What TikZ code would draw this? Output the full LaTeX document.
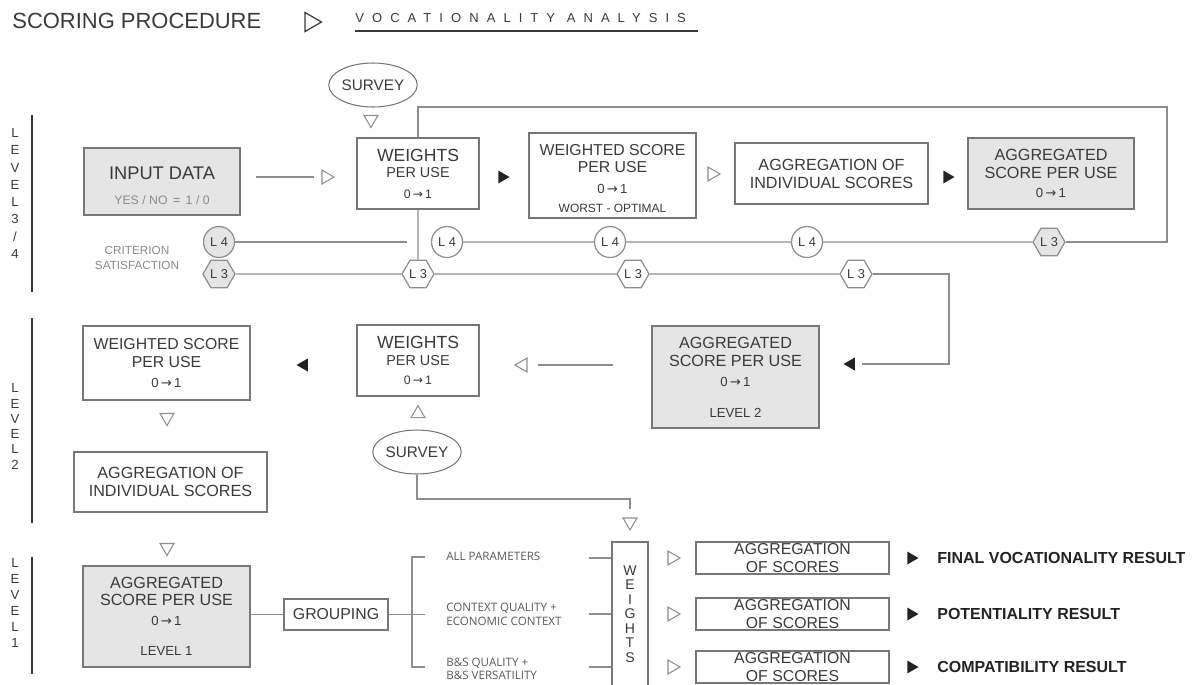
\documentclass[tikz,border=0pt]{standalone}
\usepackage{fontspec}
\setmainfont{Liberation Sans}
\newfontfamily\grpfont{Open Sans}
\newfontfamily\symfont{DejaVu Sans}
\usetikzlibrary{shapes.geometric}

\definecolor{linegray}{HTML}{8E8E8E}
\definecolor{boxline}{HTML}{777777}
\definecolor{boxfill}{HTML}{E5E5E5}
\definecolor{txtdark}{HTML}{3A3A3A}
\definecolor{txtlight}{HTML}{8A8A8A}
\definecolor{tridark}{HTML}{232323}
\definecolor{grptxt}{HTML}{5A5A5A}

% font size with a fixed 7pt baselineskip, line gaps are set with \\[..]
\newcommand{\fs}[1]{\fontsize{#1}{7pt}\selectfont}
\newcommand{\zeroone}{0{\symfont\,→\,}1}

\begin{document}
\begin{tikzpicture}[x=0.02cm, y=-0.02cm]
	\useasboundingbox (0,0) rectangle (1203,684);
	\tikzstyle{box} = [draw=boxline, line width=0.8pt, inner sep=0pt, align=center, text=txtdark, font=\fs{9}]
	\tikzstyle{greybox} = [box, fill=boxfill]
	\tikzstyle{conn} = [draw=linegray, line width=0.8pt]
	\tikzstyle{levline} = [draw=txtdark, line width=0.8pt]
	\tikzstyle{opentri} = [regular polygon, regular polygon sides=3, draw=linegray, line width=0.6pt, inner sep=0pt, minimum size=0.32cm]
	\tikzstyle{fulltri} = [regular polygon, regular polygon sides=3, fill=tridark, inner sep=0pt, minimum size=0.30cm]
	\tikzstyle{lcirc} = [circle, draw=linegray, line width=0.7pt, inner sep=0pt, minimum size=0.62cm, font=\fs{7.3}, text=txtdark]
	\tikzstyle{lhex} = [regular polygon, regular polygon sides=6, draw=linegray, line width=0.7pt, inner sep=0pt, minimum size=0.64cm, font=\fs{7.3}, text=txtdark]
	\tikzstyle{survey} = [ellipse, draw=boxline, line width=0.6pt, inner sep=0pt, minimum width=1.66cm, minimum height=0.88cm, font=\fs{8.7}, text=txtdark]
	\tikzstyle{levlab} = [align=center, text=txtdark, inner sep=0pt]
	\tikzstyle{result} = [anchor=west, inner sep=0pt, font=\bfseries\fs{9.1}, text=tridark]
	\tikzstyle{grplab} = [anchor=west, align=left, inner sep=0pt, font=\grpfont\fs{6.6}, text=grptxt]

	% heading
	\node[anchor=west, inner sep=0pt, font=\fs{12.5}, text=txtdark] (ttl) at (12,21) {SCORING PROCEDURE};
	\node[regular polygon, regular polygon sides=3, draw=txtdark, line width=0.7pt, inner sep=0pt, minimum size=0.44cm, rotate=-90] (ttlarr) at (310.5,22) {};
	\node[anchor=west, inner sep=0pt, font=\fs{7.4}\addfontfeature{LetterSpace=62}, text=txtdark] (sub) at (355,18) {VOCATIONALITY ANALYSIS};
	\coordinate (ulL) at (355,31);
	\coordinate (ulR) at (698,31);
	\draw[txtdark, line width=0.6pt] (ulL) -- (ulR);

	% levels on the left
	\node[levlab, font=\fontsize{7.5}{9.8}\selectfont] (lev34) at (15,193.5) {L\\E\\V\\E\\L\\3\\/\\4};
	\node[levlab, font=\fontsize{7.5}{8.7}\selectfont] (lev2) at (15,426.5) {L\\E\\V\\E\\L\\2};
	\node[levlab, font=\fontsize{7.5}{9.1}\selectfont] (lev1) at (15,603) {L\\E\\V\\E\\L\\1};
	\draw[levline] (32,115) -- (32,292);
	\draw[levline] (32,318) -- (32,523);
	\draw[levline] (32,557) -- (32,674);

	% level 3 / 4
	\node[greybox, minimum width=3.12cm, minimum height=1.34cm] (inp) at (162,181.5) {\rule{0pt}{12pt}\fs{10.4}INPUT DATA\\[7pt]\fs{7}\textcolor{txtlight}{YES / NO \,=\, 1 / 0}};
	\node[survey] (sv1) at (373,85) {SURVEY};
	\node[opentri, rotate=180] (s1) at (371,119.5) {};
	\node[box, minimum width=2.44cm, minimum height=1.42cm] (wts) at (418,173.5) {\fs{10}WEIGHTS\\[2.6pt]\fs{8.2}PER USE\\[4.5pt]\fs{7}\zeroone};
	\node[box, minimum width=3.34cm, minimum height=1.70cm] (wsc) at (612.5,175.5) {\rule{0pt}{9.8pt}\fs{9}WEIGHTED SCORE\\[2.6pt]\fs{9}PER USE\\[4.9pt]\fs{7.5}\zeroone\\[3.5pt]\fs{6.8}WORST - OPTIMAL};
	\node[box, minimum width=3.86cm, minimum height=1.22cm] (agi) at (831.5,173.5) {\fs{9.2}AGGREGATION OF\\[3.2pt]\fs{9.2}INDIVIDUAL SCORES};
	\node[greybox, minimum width=3.32cm, minimum height=1.42cm] (ags) at (1051,173.5) {\fs{9.2}AGGREGATED\\[3.2pt]\fs{9.2}SCORE PER USE\\[4.3pt]\fs{7.5}\zeroone};

	\node[opentri, rotate=-90] (a1) at (326,177) {};
	\node[fulltri, rotate=-90] (a2) at (502,177) {};
	\node[opentri, rotate=-90] (a3) at (712,174) {};
	\node[fulltri, rotate=-90] (a4) at (947,177) {};

	\node[align=center, font=\fs{6.7}, text=txtlight, inner sep=0pt] (crit) at (137,257.5) {CRITERION\\[1.5pt]SATISFACTION};

	\node[lcirc, fill=boxfill] (l4a) at (219,242) {L 4};
	\node[lcirc] (l4b) at (447,242) {L 4};
	\node[lcirc] (l4c) at (610,242) {L 4};
	\node[lcirc] (l4d) at (807,242) {L 4};
	\node[lhex, fill=boxfill] (l3e) at (1049,242) {L 3};
	\node[lhex, fill=boxfill] (l3a) at (219,274) {L 3};
	\node[lhex] (l3b) at (418,274) {L 3};
	\node[lhex] (l3c) at (633,274) {L 3};
	\node[lhex] (l3d) at (856,274) {L 3};

	% level 2
	\node[box, minimum width=3.34cm, minimum height=1.48cm] (wsc2) at (166.5,363) {\fs{9}WEIGHTED SCORE\\[3.2pt]\fs{9}PER USE\\[4.4pt]\fs{7.5}\zeroone};
	\node[box, minimum width=2.44cm, minimum height=1.42cm] (wts2) at (418,360.5) {\fs{10}WEIGHTS\\[2.6pt]\fs{8.2}PER USE\\[3.9pt]\fs{7}\zeroone};
	\node[greybox, minimum width=3.34cm, minimum height=2.04cm] (agl2) at (735.5,377) {\fs{9.2}AGGREGATED\\[3.2pt]\fs{9.2}SCORE PER USE\\[4.3pt]\fs{7.5}\zeroone\\[10.6pt]\fs{7.5}LEVEL 2};
	\node[box, minimum width=3.86cm, minimum height=1.20cm] (agi2) at (170.5,482) {\fs{9.2}AGGREGATION OF\\[2.8pt]\fs{9.2}INDIVIDUAL SCORES};
	\node[survey] (sv2) at (417,452) {SURVEY};

	\node[fulltri, rotate=90] (b1) at (851,364) {};
	\node[opentri, rotate=90] (b2) at (523,365) {};
	\node[fulltri, rotate=90] (b3) at (304,365) {};
	\node[opentri, rotate=180] (b4) at (167,417.5) {};
	\node[opentri] (b5) at (418,413.6) {};
	\node[opentri, rotate=180] (b6) at (167,547.5) {};
	\node[opentri, rotate=180] (c0) at (630,522) {};

	% connectors of levels 3/4 and 2
	\coordinate (tl) at (418,107);
	\coordinate (tr) at (1167,107);
	\coordinate (l4end) at (407,242);
	\coordinate (rt) at (949,364);
	\coordinate (svk) at (630,499);

	\draw[conn, shorten <=0.3cm, shorten >=0.14cm] (inp.east |- a1) -- (a1);
	\draw[conn] (wts) -- (tl) -- (tr) |- (l3e);
	\draw[conn] (l4a) -- (l4end);
	\draw[conn] (l4b) -- (l4c) -- (l4d) -- (l3e);
	\draw[conn] (wts) -- (l3b);
	\draw[conn] (l3a) -- (l3b) -- (l3c) -- (l3d);
	\draw[conn, shorten >=0.14cm] (l3d) -| (rt) -- (b1);
	\draw[conn, shorten <=0.76cm, shorten >=0.2cm] (agl2.west |- b2) -- (b2);
	\draw[conn, shorten >=0.16cm] (sv2) |- (svk) -- (c0);

	% level 1
	\node[greybox, minimum width=3.34cm, minimum height=2.02cm] (agl1) at (166.5,616.5) {\fs{9.2}AGGREGATED\\[2.6pt]\fs{9.2}SCORE PER USE\\[4.3pt]\fs{7.5}\zeroone\\[10pt]\fs{7.5}LEVEL 1};
	\node[box, minimum width=2.08cm, minimum height=0.62cm] (grp) at (336,614.5) {GROUPING};
	\node[box, minimum width=0.72cm, minimum height=2.88cm, font=\fontsize{8}{8.2}\selectfont] (wv) at (630,614) {W\\E\\I\\G\\H\\T\\S};

	\node[grplab] (gl1) at (446,556) {ALL PARAMETERS};
	\node[grplab] (gl2) at (446,614) {CONTEXT QUALITY +\\[0.9pt]ECONOMIC CONTEXT};
	\node[grplab] (gl3) at (446,668.5) {B\&S QUALITY +\\[0.4pt]B\&S VERSATILITY};

	\coordinate (brt) at (425,557);
	\coordinate (brm) at (412,614.5);
	\coordinate (brmr) at (425,614.5);
	\coordinate (brb) at (425,667);
	\draw[conn] (agl1.east |- grp) -- (grp);
	\draw[conn] (grp) -- (brm);
	\draw[conn] (brt) -| (brm) |- (brb);
	\draw[conn] (brm) -- (brmr);

	\foreach \n/\y/\res in {1/558/FINAL VOCATIONALITY RESULT, 2/614/POTENTIALITY RESULT, 3/667/COMPATIBILITY RESULT} {
		\coordinate (gw\n) at (589,\y);
		\draw[conn] (gw\n) -- (gw\n -| wv.west);
		\node[opentri, rotate=-90] (c\n) at (672,\y) {};
		\node[box, minimum width=3.86cm, minimum height=0.64cm] (agg\n) at (792.5,\y) {\fs{9}AGGREGATION\\[3.2pt]\fs{9}OF SCORES};
		\node[fulltri, rotate=-90] (d\n) at (911,\y) {};
		\node[result] (res\n) at (937,\y) {\res};
	}
\end{tikzpicture}
\end{document}
